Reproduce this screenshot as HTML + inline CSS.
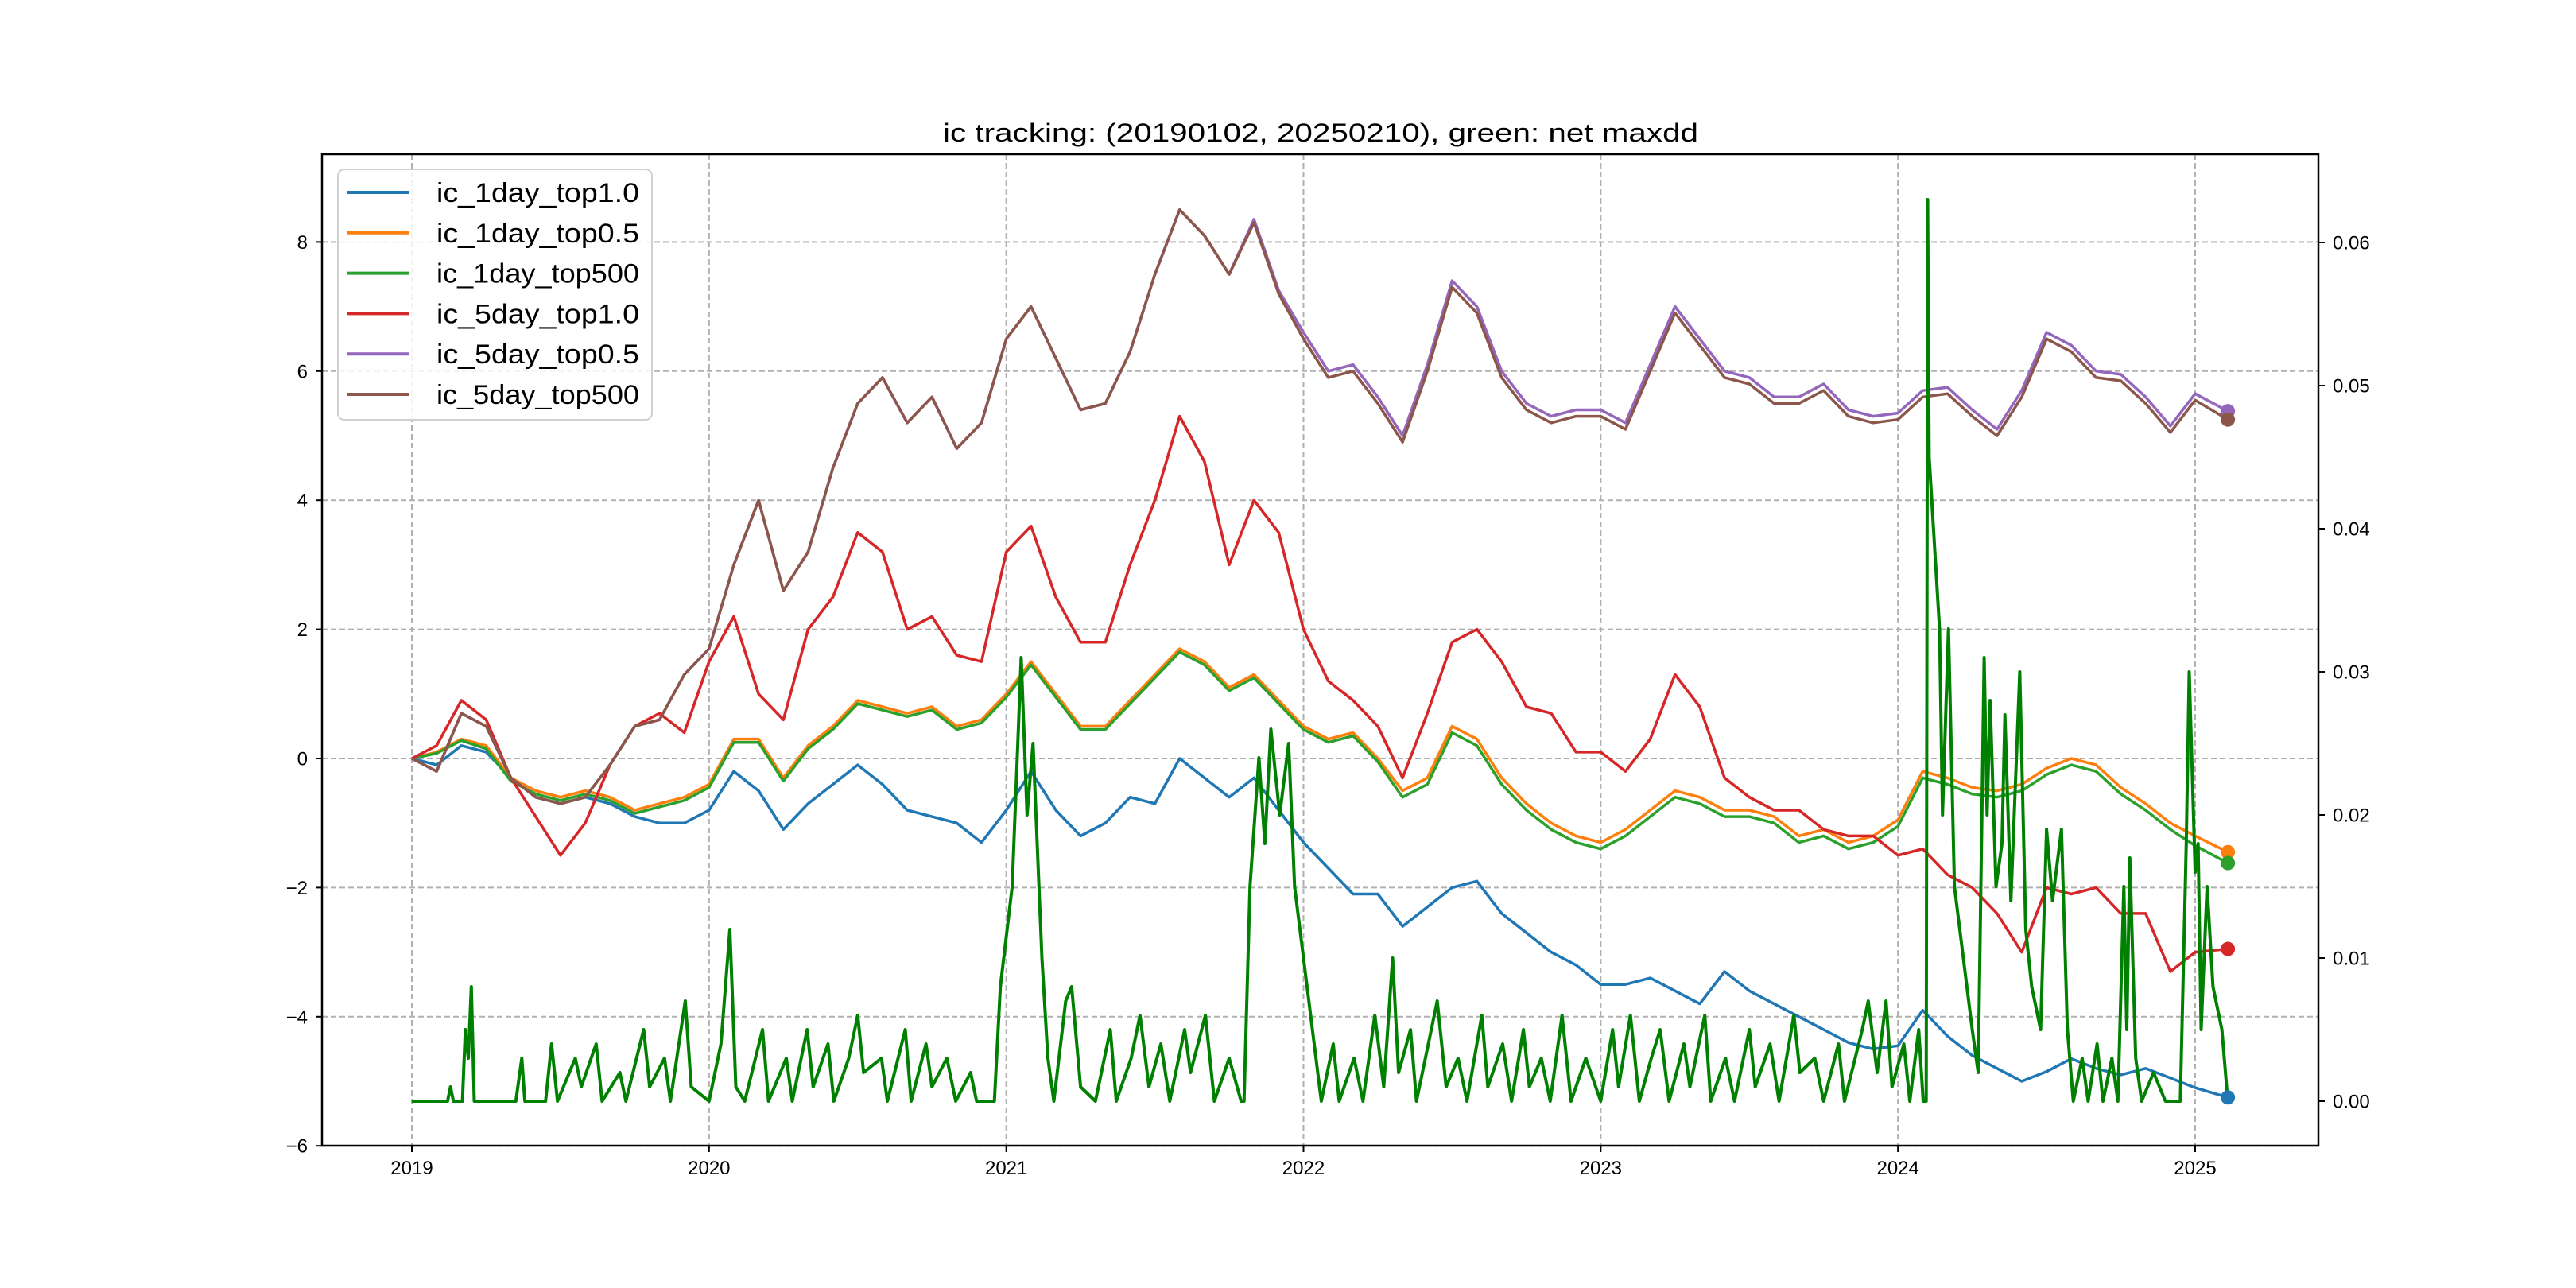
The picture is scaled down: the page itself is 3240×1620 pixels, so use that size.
<!DOCTYPE html>
<html><head><meta charset="utf-8"><title>ic tracking</title>
<style>
html,body{margin:0;padding:0;background:#fff;}
svg{display:block;font-family:"Liberation Sans","Noto Sans CJK SC",sans-serif;}
</style></head>
<body>
<svg id="chart" xmlns="http://www.w3.org/2000/svg" width="3240" height="1620" viewBox="0 0 3240 1620">
<rect x="0" y="0" width="3240" height="1620" fill="#fff"/>
<text x="1661" y="178" font-size="32" text-anchor="middle" textLength="950" lengthAdjust="spacingAndGlyphs">ic tracking: (20190102, 20250210), green: net maxdd</text>
<g id="grid"></g>
<g id="series"></g>
<g id="axes"></g>
<g id="legend"></g>
</svg>
<script>
// ---- data (monthly samples from 2019.0, final point 2025-02-10) ----
const endDate = 2025.11;
const xTicks = [2019, 2020, 2021, 2022, 2023, 2024, 2025];
const yTicksLeft = [-6, -4, -2, 0, 2, 4, 6, 8];
const yTicksRight = [0, 0.01, 0.02, 0.03, 0.04, 0.05, 0.06];
const yTickLabelsRight = ["0.00", "0.01", "0.02", "0.03", "0.04", "0.05", "0.06"];
const seriesNames = ["ic_1day_top1.0", "ic_1day_top0.5", "ic_1day_top500", "ic_5day_top1.0", "ic_5day_top0.5", "ic_5day_top500"];

const ic1dTop10 = [0,-0.1,0.2,0.1,-0.3,-0.6,-0.7,-0.6,-0.7,-0.9,-1.0,-1.0,
 -0.8,-0.2,-0.5,-1.1,-0.7,-0.4,-0.1,-0.4,-0.8,-0.9,-1.0,-1.3,
 -0.8,-0.2,-0.8,-1.2,-1.0,-0.6,-0.7,0.0,-0.3,-0.6,-0.3,-0.8,
 -1.3,-1.7,-2.1,-2.1,-2.6,-2.3,-2.0,-1.9,-2.4,-2.7,-3.0,-3.2,
 -3.5,-3.5,-3.4,-3.6,-3.8,-3.3,-3.6,-3.8,-4.0,-4.2,-4.4,-4.5,
 -4.45,-3.9,-4.3,-4.6,-4.8,-5.0,-4.85,-4.65,-4.8,-4.9,-4.8,-4.95,
 -5.1,-5.25];
const ic1dTop05 = [0,0.1,0.3,0.2,-0.3,-0.5,-0.6,-0.5,-0.6,-0.8,-0.7,-0.6,
 -0.4,0.3,0.3,-0.3,0.2,0.5,0.9,0.8,0.7,0.8,0.5,0.6,
 1.0,1.5,1.0,0.5,0.5,0.9,1.3,1.7,1.5,1.1,1.3,0.9,
 0.5,0.3,0.4,0.0,-0.5,-0.3,0.5,0.3,-0.3,-0.7,-1.0,-1.2,
 -1.3,-1.1,-0.8,-0.5,-0.6,-0.8,-0.8,-0.9,-1.2,-1.1,-1.3,-1.2,
 -0.95,-0.2,-0.3,-0.45,-0.5,-0.4,-0.15,0.0,-0.1,-0.45,-0.7,-1.0,
 -1.2,-1.45];
const ic1dTop500 = [0,0.08,0.28,0.15,-0.35,-0.55,-0.65,-0.55,-0.65,-0.85,-0.75,-0.65,
 -0.45,0.25,0.25,-0.35,0.15,0.45,0.85,0.75,0.65,0.75,0.45,0.55,
 0.95,1.45,0.95,0.45,0.45,0.85,1.25,1.65,1.45,1.05,1.25,0.85,
 0.45,0.25,0.35,-0.05,-0.6,-0.4,0.4,0.2,-0.4,-0.8,-1.1,-1.3,
 -1.4,-1.2,-0.9,-0.6,-0.7,-0.9,-0.9,-1.0,-1.3,-1.2,-1.4,-1.3,
 -1.05,-0.3,-0.4,-0.55,-0.6,-0.5,-0.25,-0.1,-0.2,-0.55,-0.8,-1.1,
 -1.35,-1.62];
const ic5dTop10 = [0,0.2,0.9,0.6,-0.3,-0.9,-1.5,-1.0,-0.1,0.5,0.7,0.4,
 1.5,2.2,1.0,0.6,2.0,2.5,3.5,3.2,2.0,2.2,1.6,1.5,
 3.2,3.6,2.5,1.8,1.8,3.0,4.0,5.3,4.6,3.0,4.0,3.5,
 2.0,1.2,0.9,0.5,-0.3,0.7,1.8,2.0,1.5,0.8,0.7,0.1,
 0.1,-0.2,0.3,1.3,0.8,-0.3,-0.6,-0.8,-0.8,-1.1,-1.2,-1.2,
 -1.5,-1.4,-1.8,-2.0,-2.4,-3.0,-2.0,-2.1,-2.0,-2.4,-2.4,-3.3,
 -3.0,-2.95];
const ic5dTop05 = [0,-0.2,0.7,0.5,-0.3,-0.6,-0.7,-0.6,-0.1,0.5,0.6,1.3,
 1.7,3.0,4.0,2.6,3.2,4.5,5.5,5.9,5.2,5.6,4.8,5.2,
 6.5,7.0,6.2,5.4,5.5,6.3,7.5,8.5,8.1,7.5,8.35,7.25,
 6.6,6.0,6.1,5.6,5.0,6.1,7.4,7.0,6.0,5.5,5.3,5.4,
 5.4,5.2,6.1,7.0,6.5,6.0,5.9,5.6,5.6,5.8,5.4,5.3,
 5.35,5.7,5.75,5.4,5.1,5.7,6.6,6.4,6.0,5.95,5.6,5.15,
 5.65,5.38];
const ic5dTop500 = [0,-0.2,0.7,0.5,-0.3,-0.6,-0.7,-0.6,-0.1,0.5,0.6,1.3,
 1.7,3.0,4.0,2.6,3.2,4.5,5.5,5.9,5.2,5.6,4.8,5.2,
 6.5,7.0,6.2,5.4,5.5,6.3,7.5,8.5,8.1,7.5,8.3,7.2,
 6.5,5.9,6.0,5.5,4.9,6.0,7.3,6.9,5.9,5.4,5.2,5.3,
 5.3,5.1,6.0,6.9,6.4,5.9,5.8,5.5,5.5,5.7,5.3,5.2,
 5.25,5.6,5.65,5.3,5.0,5.6,6.5,6.3,5.9,5.85,5.5,5.05,
 5.55,5.25];

// net maxdd (right axis), in units of 0.001
const ddDates = [2019.00,2019.12,2019.13,2019.14,2019.17,2019.18,2019.19,2019.20,2019.21,2019.35,2019.37,2019.38,2019.45,2019.47,2019.49,2019.55,2019.57,2019.62,2019.64,2019.70,2019.72,2019.78,2019.80,2019.85,2019.87,2019.92,2019.94,
 2020.00,2020.04,2020.07,2020.09,2020.12,2020.18,2020.20,2020.26,2020.28,2020.33,2020.35,2020.40,2020.42,2020.47,2020.50,2020.52,2020.58,2020.60,2020.66,2020.68,2020.73,2020.75,2020.80,2020.83,2020.88,2020.90,2020.96,2020.98,
 2021.02,2021.05,2021.07,2021.09,2021.12,2021.14,2021.16,2021.20,2021.22,2021.25,2021.30,2021.35,2021.37,2021.42,2021.45,2021.48,2021.52,2021.55,2021.60,2021.62,2021.67,2021.70,2021.75,2021.79,2021.80,2021.82,2021.85,2021.87,2021.89,2021.92,2021.95,2021.97,
 2022.00,2022.03,2022.06,2022.10,2022.12,2022.17,2022.20,2022.24,2022.27,2022.30,2022.32,2022.36,2022.38,2022.42,2022.45,2022.48,2022.52,2022.55,2022.60,2022.62,2022.67,2022.70,2022.74,2022.76,2022.80,2022.83,2022.87,2022.90,2022.95,
 2023.00,2023.04,2023.06,2023.10,2023.13,2023.17,2023.20,2023.23,2023.28,2023.30,2023.35,2023.37,2023.42,2023.45,2023.50,2023.52,2023.57,2023.60,2023.65,2023.67,2023.72,2023.75,2023.80,2023.82,2023.88,2023.90,2023.93,2023.96,2023.98,
 2024.02,2024.04,2024.07,2024.085,2024.095,2024.10,2024.105,2024.14,2024.15,2024.17,2024.19,2024.22,2024.25,2024.27,2024.29,2024.30,2024.31,2024.33,2024.35,2024.36,2024.38,2024.41,2024.43,2024.45,2024.48,2024.50,2024.52,2024.55,2024.57,2024.59,2024.62,2024.64,2024.67,2024.69,2024.72,2024.74,2024.76,2024.77,2024.78,2024.80,2024.82,2024.86,2024.90,2024.95,2024.97,2024.98,
 2025.00,2025.01,2025.02,2025.04,2025.06,2025.09,2025.11];
const ddValues = [0,0,1,0,0,5,3,8,0,0,3,0,0,4,0,3,1,4,0,2,0,5,1,3,0,7,1,
 0,4,12,1,0,5,0,3,0,5,1,4,0,3,6,2,3,0,5,0,4,1,3,0,2,0,0,8,
 15,31,20,25,10,3,0,7,8,1,0,5,0,3,6,1,4,0,5,2,6,0,3,0,0,15,24,18,26,20,25,15,
 10,5,0,4,0,3,0,6,1,10,2,5,0,4,7,1,3,0,6,1,4,0,5,1,3,0,6,0,3,
 0,5,1,6,0,3,5,0,4,1,6,0,3,0,5,1,4,0,6,2,3,0,4,0,5,7,2,7,1,
 4,0,5,0,0,63,45,33,20,33,15,10,5,2,31,20,28,15,18,27,14,30,12,8,5,19,14,19,5,0,3,0,4,0,3,0,15,5,17,3,0,2,0,0,18,30,
 16,18,5,15,8,5,0];

// ---- layout ----
const L = 405, R = 2916, T = 194, B = 1441;
function xOf(year){ return 518 + (year - 2019) * (2761 - 518) / 6; }
function yLeft(v){ return 954 - v * 81.2; }
function yRight(v){ return 1385 - v * 18000; }
function tAt(i, n){ return i === n - 1 ? endDate : 2019 + i / 12; }

const NS = "http://www.w3.org/2000/svg";
function mk(tag, attrs, parent){
  const e = document.createElementNS(NS, tag);
  for (const k in attrs) e.setAttribute(k, attrs[k]);
  parent.appendChild(e);
  return e;
}
const grid = document.getElementById('grid');
const ser = document.getElementById('series');
const axes = document.getElementById('axes');
const legend = document.getElementById('legend');

// grid lines
xTicks.forEach(t => {
  const g = mk('line', {x1:xOf(t), x2:xOf(t), y1:T, y2:B, stroke:'#b0b0b0', 'stroke-width':2, 'stroke-dasharray':'7,4'}, grid);
  
  
});
yTicksLeft.forEach(v => {
  const g = mk('line', {x1:L, x2:R, y1:yLeft(v), y2:yLeft(v), stroke:'#b0b0b0', 'stroke-width':2, 'stroke-dasharray':'7,4'}, grid);
  
  
});

// series
const colors = ['#1f77b4','#ff7f0e','#2ca02c','#d62728','#9467bd','#8c564b'];
const allSeries = [ic1dTop10, ic1dTop05, ic1dTop500, ic5dTop10, ic5dTop05, ic5dTop500];
allSeries.forEach((vals, s) => {
  const pts = vals.map((v, i) => xOf(tAt(i, vals.length)).toFixed(1) + ',' + yLeft(v).toFixed(1)).join(' ');
  const p = mk('polyline', {points:pts, fill:'none', stroke:colors[s], 'stroke-width':3.5, 'stroke-linejoin':'round'}, ser);
  
  
});
// drawdown on right axis
const ddPts = ddDates.map((d, i) => xOf(d).toFixed(1) + ',' + yRight(ddValues[i] / 1000).toFixed(1)).join(' ');
const dd = mk('polyline', {points:ddPts, fill:'none', stroke:'#008000', 'stroke-width':4, 'stroke-linejoin':'round'}, ser);


// end markers
allSeries.forEach((vals, s) => {
  const c = mk('circle', {cx:xOf(endDate), cy:yLeft(vals[vals.length-1]), r:9, fill:colors[s]}, ser);
  
  
});

// spines
const frame = mk('rect', {x:L, y:T, width:R-L, height:B-T, fill:'none', stroke:'#000', 'stroke-width':2.5}, axes);



// ticks & labels
xTicks.forEach(t => {
  mk('line', {x1:xOf(t), x2:xOf(t), y1:B, y2:B+8, stroke:'#000', 'stroke-width':2}, axes);
  const tx = mk('text', {x:xOf(t), y:1477, 'font-size':24, 'text-anchor':'middle'}, axes);
  tx.textContent = String(t);
  
  
});
yTicksLeft.forEach(v => {
  mk('line', {x1:L-8, x2:L, y1:yLeft(v), y2:yLeft(v), stroke:'#000', 'stroke-width':2}, axes);
  const tx = mk('text', {x:387, y:yLeft(v)+8.5, 'font-size':24, 'text-anchor':'end'}, axes);
  tx.textContent = v < 0 ? '\u2212' + Math.abs(v) : String(v);
  
  
});
yTicksRight.forEach((v, i) => {
  mk('line', {x1:R, x2:R+8, y1:yRight(v), y2:yRight(v), stroke:'#000', 'stroke-width':2}, axes);
  const tx = mk('text', {x:2934, y:yRight(v)+8.5, 'font-size':24, 'text-anchor':'start'}, axes);
  tx.textContent = yTickLabelsRight[i];
  
  
});

// legend
const box = mk('rect', {x:425, y:213, width:395, height:315, rx:8, fill:'#fff', 'fill-opacity':0.85, stroke:'#d0d0d0', 'stroke-width':2}, legend);


seriesNames.forEach((n, i) => {
  const yy = 242 + i * 50.8;
  const h = mk('line', {x1:437, x2:515, y1:yy, y2:yy, stroke:colors[i], 'stroke-width':4}, legend);
  
  
  const tx = mk('text', {x:549, y:yy+12, 'font-size':34, textLength:255, lengthAdjust:'spacingAndGlyphs'}, legend);
  tx.textContent = n;
  
  
});
</script>
</body></html>
